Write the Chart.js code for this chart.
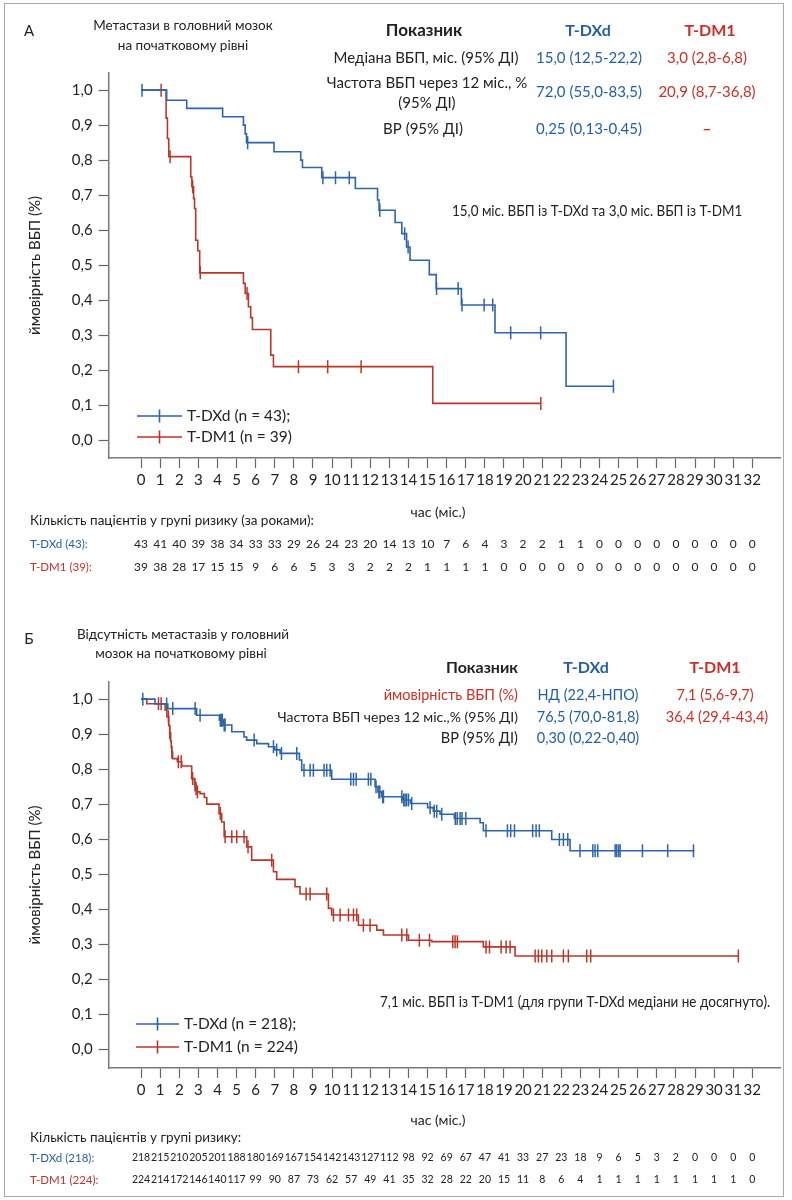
<!DOCTYPE html>
<html lang="uk">
<head>
<meta charset="UTF-8">
<title>ВБП: T-DXd проти T-DM1</title>
<script src="https://cdn.jsdelivr.net/npm/chart.js"></script>
<style>
  body { margin: 0; background: #fff; font-family: Lato, "Noto Sans", sans-serif; color: #222; }
  .page { position: relative; width: 792px; height: 1200px; overflow: hidden; }
  .frame { position: absolute; left: 4px; top: 3px; width: 780px; height: 1194px; border: 1.5px solid #a8a8a8; box-sizing: border-box; }
  .panel { position: absolute; left: 0; width: 792px; height: 600px; }
  .t { position: absolute; white-space: nowrap; transform: translate(-50%, -50%); font-size: 15px; line-height: 1.1; }
  .r { transform: translate(-100%, -50%); }
  .l { transform: translate(0, -50%); }
  .b { font-weight: bold; font-size: 16px; }
  .blue { color: #255ea6; }
  .red { color: #cc2f28; }
  .sm { font-size: 11.5px; }
  .hd { font-size: 13.5px; }
  .pb { font-size: 14.5px; }
  .note { font-size: 16px; transform: translate(0, -50%) scaleX(0.84); transform-origin: 0 50%; }
</style>
</head>
<body>
<div class="page">
  <div class="frame"></div>
  <div class="panel" style="top:0"><canvas id="chartA"></canvas></div>
  <div class="panel" style="top:600px"><canvas id="chartB"></canvas></div>

  <!-- панель А -->
  <div class="t" style="left:29px;top:30px">А</div>
  <div class="t hd" style="left:183px;top:25px">Метастази в головний мозок</div>
  <div class="t hd" style="left:183px;top:45px">на початковому рівні</div>
  <div class="t b" style="left:424px;top:30px;font-size:17px">Показник</div>
  <div class="t b blue" style="left:588px;top:30px">T-DXd</div>
  <div class="t b red" style="left:710px;top:30px">T-DM1</div>
  <div class="t" style="left:426px;top:57px">Медіана ВБП, міс. (95% ДІ)</div>
  <div class="t blue" style="left:589px;top:57px">15,0 (12,5-22,2)</div>
  <div class="t red" style="left:707px;top:57px">3,0 (2,8-6,8)</div>
  <div class="t" style="left:427px;top:82px">Частота ВБП через 12 міс., %</div>
  <div class="t" style="left:427px;top:102px">(95% ДІ)</div>
  <div class="t blue" style="left:589px;top:91px">72,0 (55,0-83,5)</div>
  <div class="t red" style="left:707px;top:91px">20,9 (8,7-36,8)</div>
  <div class="t" style="left:423px;top:128px">ВР (95% ДІ)</div>
  <div class="t blue" style="left:589px;top:128px">0,25 (0,13-0,45)</div>
  <div class="t red b" style="left:707px;top:128px">–</div>
  <div class="t note" style="left:452px;top:210px">15,0 міс. ВБП із T-DXd та 3,0 міс. ВБП із T-DM1</div>
  <div class="t" style="left:438px;top:512px;font-size:14px">час (міс.)</div>
  <div class="t l" style="left:30px;top:520px;font-size:13.5px">Кількість пацієнтів у групі ризику (за роками):</div>
  <div class="t l sm blue" style="left:30px;top:544px">T-DXd (43):</div>
  <div class="t l sm red" style="left:30px;top:567px">T-DM1 (39):</div>

  <!-- панель Б -->
  <div class="t" style="left:29px;top:638px">Б</div>
  <div class="t hd" style="left:183px;top:634px">Відсутність метастазів у головний</div>
  <div class="t hd" style="left:181px;top:653px">мозок на початковому рівні</div>
  <div class="t b r" style="left:518px;top:667px">Показник</div>
  <div class="t b blue" style="left:586px;top:667px">T-DXd</div>
  <div class="t b red" style="left:715px;top:667px">T-DM1</div>
  <div class="t r red pb" style="left:518px;top:695px">ймовірність ВБП (%)</div>
  <div class="t blue pb" style="left:588px;top:695px">НД (22,4-НПО)</div>
  <div class="t red pb" style="left:715px;top:695px">7,1 (5,6-9,7)</div>
  <div class="t r" style="left:518px;top:717px;font-size:14px">Частота ВБП через 12 міс.,% (95% ДІ)</div>
  <div class="t blue pb" style="left:588px;top:717px">76,5 (70,0-81,8)</div>
  <div class="t red pb" style="left:717px;top:717px">36,4 (29,4-43,4)</div>
  <div class="t r pb" style="left:518px;top:738px">ВР (95% ДІ)</div>
  <div class="t blue pb" style="left:588px;top:738px">0,30 (0,22-0,40)</div>
  <div class="t note" style="left:380px;top:1001px;transform:translate(0,-50%) scaleX(0.845)">7,1 міс. ВБП із T-DM1 (для групи T-DXd медіани не досягнуто).</div>
  <div class="t" style="left:438px;top:1120px;font-size:14px">час (міс.)</div>
  <div class="t l" style="left:30px;top:1137px;font-size:13.5px">Кількість пацієнтів у групі ризику:</div>
  <div class="t l sm blue" style="left:30px;top:1158px">T-DXd (218):</div>
  <div class="t l sm red" style="left:30px;top:1180px">T-DM1 (224):</div>
</div>

<script>
  const BLUE = '#2d64ab';
  const RED = '#b9372a';

  const monthTicks = [0, 1, 2, 3, 4, 5, 6, 7, 8, 9, 10, 11, 12, 13, 14, 15, 16,
    17, 18, 19, 20, 21, 22, 23, 24, 25, 26, 27, 28, 29, 30, 31, 32];
  const survivalTicks = [0, 0.1, 0.2, 0.3, 0.4, 0.5, 0.6, 0.7, 0.8, 0.9, 1.0];

  // А: метастази в головний мозок
  const aDxdTime = [0, 1.34, 2.39, 4.27, 5.36, 5.45, 5.52, 6.96, 8.36, 8.45, 9.46, 11.22,
    12.38, 12.46, 13.3, 13.65, 13.9, 14.08, 15.09, 15.45, 16.77, 18.53, 22.25, 24.73];
  const aDxdSurv = [1.0, 0.971, 0.948, 0.924, 0.90, 0.875, 0.85, 0.824, 0.80, 0.779, 0.75, 0.719,
    0.686, 0.657, 0.622, 0.59, 0.552, 0.514, 0.473, 0.433, 0.386, 0.307, 0.154, 0.154];
  const aDxdCensor = [0.05, 5.58, 9.52, 10.18, 10.9, 12.5, 13.8, 13.98, 15.47, 16.6, 16.8,
    17.96, 18.41, 19.35, 20.92, 24.73];

  const aDm1Time = [0, 1.31, 1.38, 1.45, 2.6, 2.66, 2.75, 2.8, 2.86, 2.97, 3.07, 5.36, 5.45,
    5.62, 5.74, 5.83, 6.79, 6.93, 15.27, 20.93];
  const aDm1Surv = [1.0, 0.92, 0.862, 0.81, 0.752, 0.724, 0.69, 0.662, 0.571, 0.541, 0.478, 0.448, 0.419,
    0.381, 0.35, 0.316, 0.243, 0.21, 0.105, 0.105];
  const aDm1Censor = [1.05, 1.52, 2.7, 3.1, 5.55, 8.24, 9.77, 11.52, 20.93];

  const aRiskDxd = [43, 41, 40, 39, 38, 34, 33, 33, 29, 26, 24, 23, 20, 14, 13, 10, 7, 6, 4, 3,
    2, 2, 1, 1, 0, 0, 0, 0, 0, 0, 0, 0, 0];
  const aRiskDm1 = [39, 38, 28, 17, 15, 15, 9, 6, 6, 5, 3, 3, 2, 2, 2, 1, 1, 1, 1, 0,
    0, 0, 0, 0, 0, 0, 0, 0, 0, 0, 0, 0, 0];

  // Б: без метастазів у головний мозок
  const bDxdTime = [0, 0.73, 1.4, 2.91, 4.1, 4.3, 4.75, 5.39, 5.53, 6.06, 6.67, 7.0, 7.28, 8.29,
    8.41, 9.98, 12.25, 12.4, 12.6, 13.7, 14.1, 15.0, 15.3, 15.65, 16.4, 17.75, 17.92, 21.5, 22.46, 28.97];
  const bDxdSurv = [1.0, 0.986, 0.973, 0.954, 0.94, 0.926, 0.907, 0.892, 0.883, 0.873, 0.864, 0.855, 0.845, 0.826,
    0.797, 0.771, 0.75, 0.735, 0.721, 0.712, 0.702, 0.69, 0.68, 0.671, 0.659, 0.647, 0.624, 0.599, 0.567, 0.567];
  const bDxdCensor = [0.09, 1.34, 1.66, 2.83, 3.09, 4.15, 4.2, 4.25, 4.35, 4.4, 5.92, 6.93, 7.1,
    7.35, 8.15, 8.53, 8.85, 9.02, 9.58, 9.72, 9.9, 10.98, 11.12, 11.26, 11.9, 12.03, 12.3, 12.45,
    12.5, 12.65, 12.69, 13.65, 13.75, 13.82, 13.9, 14.0, 14.17, 15.13, 15.35, 15.48, 15.74, 16.45,
    16.55, 16.7, 16.8, 17.0, 18.06, 19.18, 19.35, 19.55, 20.5, 20.68, 20.85, 21.9, 22.11, 22.34,
    22.98, 23.65, 23.77, 23.91, 24.82, 24.9, 25.0, 25.08, 26.25, 27.57, 28.92];

  const bDm1Time = [0, 0.3, 1.26, 1.35, 1.45, 1.5, 1.55, 1.58, 1.61, 1.65, 1.9, 2.13, 2.65, 2.8,
    2.86, 2.92, 3.09, 3.31, 3.44, 4.08, 4.22, 4.35, 5.53, 5.79, 6.93, 7.1, 8.06, 8.32, 9.81, 9.98,
    11.38, 12.34, 12.69, 14.0, 15.22, 17.92, 19.58, 31.3];
  const bDm1Surv = [1.0, 0.987, 0.969, 0.95, 0.925, 0.904, 0.88, 0.862, 0.849, 0.83, 0.821, 0.809, 0.773, 0.755,
    0.745, 0.735, 0.73, 0.719, 0.70, 0.673, 0.649, 0.607, 0.578, 0.54, 0.507, 0.485, 0.464, 0.443, 0.402, 0.383,
    0.354, 0.34, 0.326, 0.311, 0.307, 0.292, 0.266, 0.266];
  const bDm1Censor = [0.91, 1.05, 1.43, 1.5, 1.61, 1.95, 2.1, 2.7, 2.82, 2.88, 2.95, 4.15, 4.4,
    4.75, 5.01, 5.39, 5.6, 6.84, 8.64, 8.85, 9.72, 10.07, 10.42, 10.86, 11.12, 11.29, 11.64, 11.99,
    13.65, 13.91, 14.57, 15.1, 16.32, 16.44, 16.56, 18.06, 18.24, 18.85, 19.11, 19.32, 20.63, 20.8,
    20.98, 21.24, 21.5, 22.11, 22.37, 23.33, 23.54, 31.27];

  const bRiskDxd = [218, 215, 210, 205, 201, 188, 180, 169, 167, 154, 142, 143, 127, 112, 98, 92,
    69, 67, 47, 41, 33, 27, 23, 18, 9, 6, 5, 3, 2, 0, 0, 0, 0];
  const bRiskDm1 = [224, 214, 172, 146, 140, 117, 99, 90, 87, 73, 62, 57, 49, 41, 35, 32, 28, 22,
    20, 15, 11, 8, 6, 4, 1, 1, 1, 1, 1, 1, 1, 1, 0];

  function stepPoints(times, surv) {
    return times.map((t, i) => ({ x: t, y: surv[i] }));
  }

  // цензуровані спостереження сидять на рівні кривої в момент t
  function censorPoints(censor, times, surv) {
    return censor.map(t => {
      let s = surv[0];
      for (let i = 0; i < times.length; i++) {
        if (times[i] <= t) s = surv[i];
      }
      return { x: t, y: s };
    });
  }

  function overlay(p) {
    return {
      id: 'overlay' + p.id,
      afterDraw(chart) {
        const ctx = chart.ctx;
        const xs = chart.scales.x;
        ctx.save();
        ctx.fillStyle = '#222';
        ctx.font = p.riskFont + 'px Lato';
        ctx.textAlign = 'center';
        ctx.textBaseline = 'middle';
        [p.riskDxd, p.riskDm1].forEach((row, r) => {
          row.forEach((n, i) => {
            ctx.fillText(String(n), xs.getPixelForValue(monthTicks[i]), p.riskY[r]);
          });
        });

        // легенда
        ctx.font = '15.5px Lato';
        ctx.textAlign = 'left';
        p.legend.forEach(item => {
          ctx.strokeStyle = item.color;
          ctx.lineWidth = 1.6;
          ctx.beginPath();
          ctx.moveTo(p.legendX[0], item.y);
          ctx.lineTo(p.legendX[1], item.y);
          const mid = (p.legendX[0] + p.legendX[1]) / 2;
          ctx.moveTo(mid, item.y - 6.5);
          ctx.lineTo(mid, item.y + 6.5);
          ctx.stroke();
          ctx.fillStyle = '#222';
          ctx.fillText(item.label, p.legendX[1] + 5, item.y);
        });
        ctx.restore();
      }
    };
  }

  function buildChart(id, p) {
    const censorStyle = {
      showLine: false, pointStyle: 'line', rotation: 90, pointRadius: 6.5,
      pointBorderWidth: 1.5
    };
    new Chart(document.getElementById(id), {
      type: 'scatter',
      data: {
        datasets: [
          Object.assign({ data: censorPoints(p.dxdCensor, p.dxdTime, p.dxdSurv),
            borderColor: BLUE, pointBorderColor: BLUE, backgroundColor: BLUE }, censorStyle),
          { data: stepPoints(p.dxdTime, p.dxdSurv), showLine: true, stepped: 'before',
            borderColor: BLUE, borderWidth: 1.6, pointRadius: 0 },
          Object.assign({ data: censorPoints(p.dm1Censor, p.dm1Time, p.dm1Surv),
            borderColor: RED, pointBorderColor: RED, backgroundColor: RED }, censorStyle),
          { data: stepPoints(p.dm1Time, p.dm1Surv), showLine: true, stepped: 'before',
            borderColor: RED, borderWidth: 1.6, pointRadius: 0 }
        ]
      },
      options: {
        responsive: true,
        maintainAspectRatio: false,
        animation: false,
        events: [],
        layout: { padding: { left: 8.6, right: 12, top: p.padTop, bottom: p.padBottom } },
        plugins: { legend: { display: false }, tooltip: { enabled: false } },
        scales: {
          x: {
            type: 'linear', min: -1.7, max: 33.45,
            afterBuildTicks: s => { s.ticks = monthTicks.map(v => ({ value: v })); },
            afterFit: s => { s.height = 70; },
            grid: { drawOnChartArea: false, tickLength: 10, tickColor: '#666', tickWidth: 1.2 },
            border: { color: '#7a7a7a', width: 1.5 },
            ticks: { font: { size: 15 }, color: '#222', padding: 3, maxRotation: 0, autoSkip: false },
            title: { display: false }
          },
          y: {
            type: 'linear', min: p.yMin, max: p.yMax,
            afterBuildTicks: s => { s.ticks = survivalTicks.map(v => ({ value: v })); },
            afterFit: s => { s.width = 100; },
            grid: { drawOnChartArea: false, tickLength: 10, tickColor: '#666', tickWidth: 1.2 },
            border: { color: '#7a7a7a', width: 1.5 },
            ticks: { font: { size: 15 }, color: '#222', padding: 6,
              callback: v => v.toFixed(1).replace('.', ',') },
            title: { display: true, text: 'ймовірність ВБП (%)', font: { size: 15 }, color: '#222',
              padding: { top: 17.4, bottom: 0 } }
          }
        }
      },
      plugins: [overlay(p)]
    });
  }

  Chart.defaults.font.family = 'Lato, "Noto Sans", sans-serif';

  buildChart('chartA', {
    id: 'A',
    dxdTime: aDxdTime, dxdSurv: aDxdSurv, dxdCensor: aDxdCensor,
    dm1Time: aDm1Time, dm1Surv: aDm1Surv, dm1Censor: aDm1Censor,
    riskDxd: aRiskDxd, riskDm1: aRiskDm1,
    padTop: 73, padBottom: 72, yMin: -0.051, yMax: 1.049,
    riskFont: 12, riskY: [544, 567],
    legendX: [137, 182],
    legend: [
      { color: BLUE, label: 'T-DXd (n = 43);', y: 416 },
      { color: RED, label: 'T-DM1 (n = 39)', y: 437 }
    ]
  });

  buildChart('chartB', {
    id: 'B',
    dxdTime: bDxdTime, dxdSurv: bDxdSurv, dxdCensor: bDxdCensor,
    dm1Time: bDm1Time, dm1Surv: bDm1Surv, dm1Censor: bDm1Censor,
    riskDxd: bRiskDxd, riskDm1: bRiskDm1,
    padTop: 82, padBottom: 62, yMin: -0.054, yMax: 1.049,
    riskFont: 10.5, riskY: [558, 580],
    legendX: [136, 179],
    legend: [
      { color: BLUE, label: 'T-DXd (n = 218);', y: 424 },
      { color: RED, label: 'T-DM1 (n = 224)', y: 447 }
    ]
  });
</script>
</body>
</html>
